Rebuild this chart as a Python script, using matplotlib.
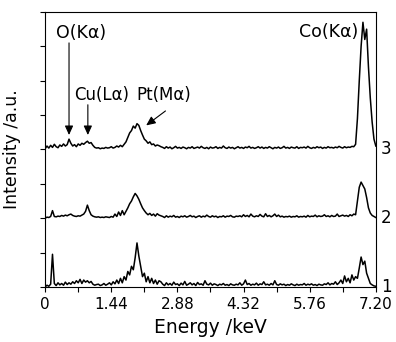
import numpy as np
import matplotlib
matplotlib.use('Agg')
import matplotlib.pyplot as plt
import matplotlib.transforms as mtransforms

plt.rcParams['font.family'] = ['DejaVu Sans']

# energy axis, 0.04 keV channels
energy = np.arange(181) * 0.04

# spectrum 3 (top), height above its own baseline
s3_low = [0.02, 0.10, 0.04, 0.12, 0.06, 0.15, 0.08, 0.05, 0.13, 0.09, 0.16, 0.10, 0.14,
          0.30, 0.18, 0.10, 0.14, 0.08, 0.16, 0.12, 0.18, 0.15, 0.20, 0.24, 0.18, 0.20, 0.12, 0.06,
          0.04, 0.05, 0.02, 0.04, 0.03, 0.06, 0.04, 0.05, 0.08, 0.04, 0.06, 0.10,
          0.07, 0.12, 0.08, 0.15, 0.22, 0.35, 0.48,
          0.55, 0.68, 0.62, 0.75, 0.70, 0.55, 0.42, 0.30, 0.25, 0.18, 0.22, 0.14, 0.16, 0.10, 0.13, 0.11, 0.08]
s3_flat = [0.06, 0.03, 0.08, 0.04, 0.07, 0.02, 0.05, 0.09, 0.04, 0.06,
           0.03, 0.07, 0.05, 0.02, 0.06, 0.04, 0.08, 0.03, 0.05, 0.07,
           0.04, 0.09, 0.05, 0.03, 0.06, 0.02, 0.07, 0.04, 0.05, 0.08,
           0.03, 0.06, 0.04, 0.10, 0.05, 0.03, 0.07, 0.04, 0.06, 0.02,
           0.05, 0.08, 0.04, 0.06, 0.03, 0.07, 0.05, 0.09, 0.04, 0.06,
           0.03, 0.05, 0.08, 0.04, 0.07, 0.03, 0.06, 0.04, 0.08, 0.05,
           0.02, 0.06, 0.04, 0.07, 0.03, 0.05, 0.09, 0.04, 0.06, 0.03,
           0.07, 0.05, 0.04, 0.08, 0.03, 0.06, 0.05, 0.07, 0.04, 0.09,
           0.05, 0.03, 0.06, 0.04, 0.08, 0.05, 0.07, 0.03, 0.06, 0.04,
           0.08, 0.05, 0.06, 0.04, 0.07, 0.05, 0.09, 0.06, 0.04, 0.08,
           0.05, 0.07, 0.06, 0.09, 0.08]
s3_co = [0.15, 0.90, 2.00, 3.00, 3.70, 3.20, 3.50, 2.40, 1.50, 0.80, 0.30, 0.10]

# spectrum 2 (middle)
s2_low = [0.00, 0.03, 0.02, 0.05, 0.22, 0.05, 0.04, 0.06, 0.05, 0.08, 0.06, 0.09, 0.07,
          0.10, 0.12, 0.08, 0.06, 0.05, 0.07, 0.06, 0.09, 0.12, 0.20, 0.38, 0.22, 0.10, 0.06, 0.04,
          0.03, 0.04, 0.02, 0.03, 0.02, 0.04, 0.03, 0.02, 0.05, 0.03, 0.12, 0.05,
          0.18, 0.08, 0.22, 0.10, 0.20, 0.30, 0.42,
          0.50, 0.62, 0.72, 0.65, 0.55, 0.42, 0.30, 0.22, 0.15, 0.10, 0.14, 0.08, 0.12, 0.06, 0.13, 0.09, 0.07]
s2_flat = [0.05, 0.02, 0.07, 0.03, 0.06, 0.04, 0.08, 0.03, 0.05, 0.02,
           0.06, 0.04, 0.07, 0.03, 0.05, 0.08, 0.04, 0.06, 0.02, 0.05,
           0.07, 0.03, 0.06, 0.04, 0.09, 0.05, 0.03, 0.07, 0.04, 0.06,
           0.02, 0.05, 0.04, 0.07, 0.03, 0.06, 0.05, 0.08, 0.04, 0.03,
           0.06, 0.05, 0.07, 0.04, 0.10, 0.05, 0.08, 0.04, 0.12, 0.06,
           0.04, 0.07, 0.05, 0.11, 0.06, 0.04, 0.13, 0.05, 0.08, 0.04,
           0.07, 0.12, 0.05, 0.09, 0.04, 0.06, 0.03, 0.05, 0.04, 0.06,
           0.03, 0.05, 0.04, 0.07, 0.03, 0.05, 0.04, 0.06, 0.03, 0.08,
           0.04, 0.06, 0.05, 0.09, 0.04, 0.07, 0.05, 0.06, 0.10, 0.05,
           0.07, 0.04, 0.08, 0.05, 0.06, 0.12, 0.05, 0.07, 0.09, 0.06,
           0.08, 0.05, 0.10, 0.07, 0.12]
s2_co = [0.10, 0.50, 0.90, 1.05, 0.95, 0.85, 0.60, 0.30, 0.15, 0.08, 0.05, 0.02]

# spectrum 1 (bottom)
s1_low = [0.00, 0.05, 0.02, 0.08, 0.95, 0.10, 0.04, 0.12, 0.06, 0.10, 0.05, 0.14, 0.07,
          0.12, 0.08, 0.15, 0.10, 0.18, 0.12, 0.22, 0.10, 0.20, 0.14, 0.18, 0.12, 0.16, 0.08, 0.05,
          0.07, 0.08, 0.04, 0.06, 0.10, 0.05, 0.08, 0.12, 0.06, 0.15, 0.09, 0.20,
          0.10, 0.25, 0.12, 0.30, 0.20, 0.45, 0.35,
          0.60, 0.50, 0.85, 1.28, 0.90, 0.60, 0.30, 0.40, 0.15, 0.30, 0.12, 0.25, 0.10, 0.20, 0.08, 0.18, 0.15]
s1_flat = [0.08, 0.04, 0.12, 0.06, 0.10, 0.05, 0.14, 0.07, 0.09, 0.04,
           0.11, 0.06, 0.16, 0.05, 0.08, 0.12, 0.06, 0.10, 0.04, 0.13,
           0.07, 0.09, 0.05, 0.18, 0.08, 0.06, 0.11, 0.05, 0.09, 0.07,
           0.04, 0.08, 0.06, 0.10, 0.05, 0.07, 0.04, 0.09, 0.06, 0.05,
           0.08, 0.06, 0.12, 0.05, 0.09, 0.20, 0.07, 0.10, 0.05, 0.08,
           0.06, 0.11, 0.05, 0.09, 0.07, 0.15, 0.06, 0.08, 0.05, 0.10,
           0.06, 0.18, 0.07, 0.05, 0.09, 0.06, 0.08, 0.04, 0.07, 0.05,
           0.09, 0.06, 0.04, 0.08, 0.05, 0.07, 0.06, 0.10, 0.05, 0.08,
           0.06, 0.09, 0.05, 0.07, 0.04, 0.08, 0.06, 0.05, 0.09, 0.07,
           0.12, 0.06, 0.10, 0.08, 0.15, 0.07, 0.12, 0.20, 0.10, 0.32,
           0.15, 0.25, 0.12, 0.35, 0.20]
s1_co = [0.30, 0.25, 0.55, 0.87, 0.65, 0.75, 0.40, 0.25, 0.10, 0.06, 0.03, 0.02]

spectra = [np.array(s1_low + s1_flat + s1_co),
           np.array(s2_low + s2_flat + s2_co),
           np.array(s3_low + s3_flat + s3_co)]
names = ['1', '2', '3']
offsets = [0, 2, 4]

fig = plt.figure(figsize=(3.96, 3.42), dpi=100)
ax = fig.add_axes([0.114, 0.161, 0.835, 0.804])

tr = mtransforms.blended_transform_factory(ax.transAxes, ax.transData)
for sp, off, nm in zip(spectra, offsets, names):
    ax.plot(energy, sp + off, color='k', lw=1.1)
    ax.text(1.015, off, nm, transform=tr, fontsize=12, ha='left', va='center')

ax.set_xlim(0, 7.2)
ax.set_ylim(0, 8)
xt = np.arange(0, 7.21, 0.72)
ax.set_xticks(xt)
ax.set_xticklabels(['0' if i == 0 else ('%.2f' % v if i % 2 == 0 else '') for i, v in enumerate(xt)])
ax.set_yticks(np.arange(0, 9, 1))
ax.set_yticklabels([])
ax.tick_params(direction='out', length=3.5, width=0.8, labelsize=11, pad=4)
for s in ax.spines.values():
    s.set_linewidth(0.8)

ax.set_xlabel('Energy /keV', fontsize=13.5, labelpad=4)
ax.set_ylabel('Intensity /a.u.', fontsize=12.5, labelpad=10)

ap = dict(arrowstyle='-|>,head_length=0.55,head_width=0.25', lw=0.8, color='k',
          shrinkA=0, shrinkB=0)
ax.text(0.78, 7.38, 'O(K\u03b1)', fontsize=12.5, ha='center', va='center')
ax.annotate('', xy=(0.52, 4.42), xytext=(0.52, 7.1), arrowprops=ap)
ax.text(1.22, 5.58, 'Cu(L\u03b1)', fontsize=12, ha='center', va='center')
ax.annotate('', xy=(0.93, 4.42), xytext=(0.93, 5.3), arrowprops=ap)
ax.text(2.58, 5.58, 'Pt(M\u03b1)', fontsize=12, ha='center', va='center')
ax.annotate('', xy=(2.2, 4.7), xytext=(2.62, 5.12), arrowprops=ap)
ax.text(6.17, 7.41, 'Co(K\u03b1)', fontsize=12.5, ha='center', va='center')

fig.savefig('out.png', dpi=100)
